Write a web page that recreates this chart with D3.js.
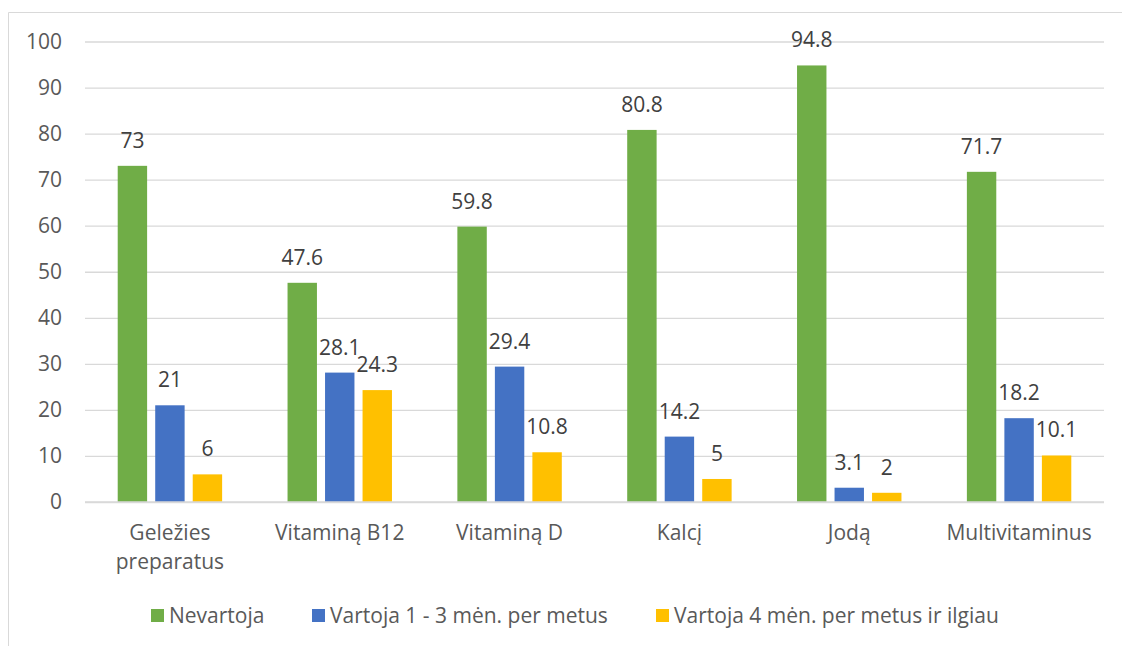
<!DOCTYPE html>
<html><head><meta charset="utf-8">
<script src="https://cdn.jsdelivr.net/npm/d3@7"></script>
<style>body{margin:0;background:#fff}svg{display:block}text{font-family:"Open Sans",sans-serif}</style>
</head><body><svg id="c" width="1122" height="646"></svg>
<script>
const categories = [["Geležies","preparatus"],["Vitaminą B12"],["Vitaminą D"],["Kalcį"],["Jodą"],["Multivitaminus"]];
const seriesNames = ["Nevartoja","Vartoja 1 - 3 mėn. per metus","Vartoja 4 mėn. per metus ir ilgiau"];
const nevartoja = [73,47.6,59.8,80.8,94.8,71.7];
const vartoja13 = [21,28.1,29.4,14.2,3.1,18.2];
const vartoja4 = [6,24.3,10.8,5,2,10.1];
const yTicks = [0,10,20,30,40,50,60,70,80,90,100];
const colors = ["#70ad47","#4472c4","#ffc000"];
const series = [nevartoja, vartoja13, vartoja4];

const FS = "21px";
const svg = d3.select("#c");
const L=85, R=1104, T=41.5, B=502;
svg.append("path").attr("d","M8.5,646 L8.5,12.5 L1122,12.5").attr("fill","none").attr("stroke","#d9d9d9").attr("stroke-width",1);

const y = d3.scaleLinear().domain([0,100]).range([B,T]);
const x0 = d3.scaleBand().domain(d3.range(categories.length)).range([L,R]).paddingInner(0).paddingOuter(0);
const x1 = d3.scaleBand().domain([0,1,2]).range([0,x0.bandwidth()]).paddingInner(0.216).paddingOuter(0.872);

const yAxis = d3.axisLeft(y).tickValues(yTicks).tickSize(-(R-L)).tickPadding(23);
const ga = svg.append("g").attr("transform",`translate(${L},0)`).call(yAxis);
ga.select(".domain").remove();
ga.selectAll(".tick line").attr("stroke","#d9d9d9").attr("stroke-width",1.3);
ga.selectAll(".tick text").attr("fill","#595959").style("font-size",FS).attr("text-anchor","end").attr("font-family","Open Sans");

const groups = svg.append("g").selectAll("g").data(categories).join("g")
  .attr("transform",(d,i)=>`translate(${x0(i)},0)`);
series.forEach((s,si)=>{
  groups.append("rect").attr("x",x1(si)).attr("width",x1.bandwidth())
    .attr("y",(d,i)=>y(s[i])).attr("height",(d,i)=>B-y(s[i])).attr("fill",colors[si]);
  groups.append("text").attr("x",x1(si)+x1.bandwidth()/2).attr("y",(d,i)=>y(s[i])-18)
    .attr("text-anchor","middle").attr("fill","#404040").style("font-size",FS).text((d,i)=>s[i]);
});
svg.append("line").attr("x1",L).attr("x2",R).attr("y1",B).attr("y2",B).attr("stroke","#d9d9d9").attr("stroke-width",1.3);
groups.each(function(d,i){
  const t = d3.select(this).append("text").attr("text-anchor","middle").attr("fill","#595959").style("font-size",FS);
  d.forEach((line,li)=>t.append("tspan").attr("x",x0.bandwidth()/2).attr("y",540+li*29).text(line));
});
const legX = [151, 312, 656];
const lg = svg.append("g").selectAll("g").data(seriesNames).join("g").attr("transform",(d,i)=>`translate(${legX[i]},0)`);
lg.append("rect").attr("x",0).attr("y",609).attr("width",13).attr("height",13).attr("fill",(d,i)=>colors[i]);
lg.append("text").attr("x",18).attr("y",623).attr("fill","#595959").style("font-size",FS).text(d=>d);
</script></body></html>
